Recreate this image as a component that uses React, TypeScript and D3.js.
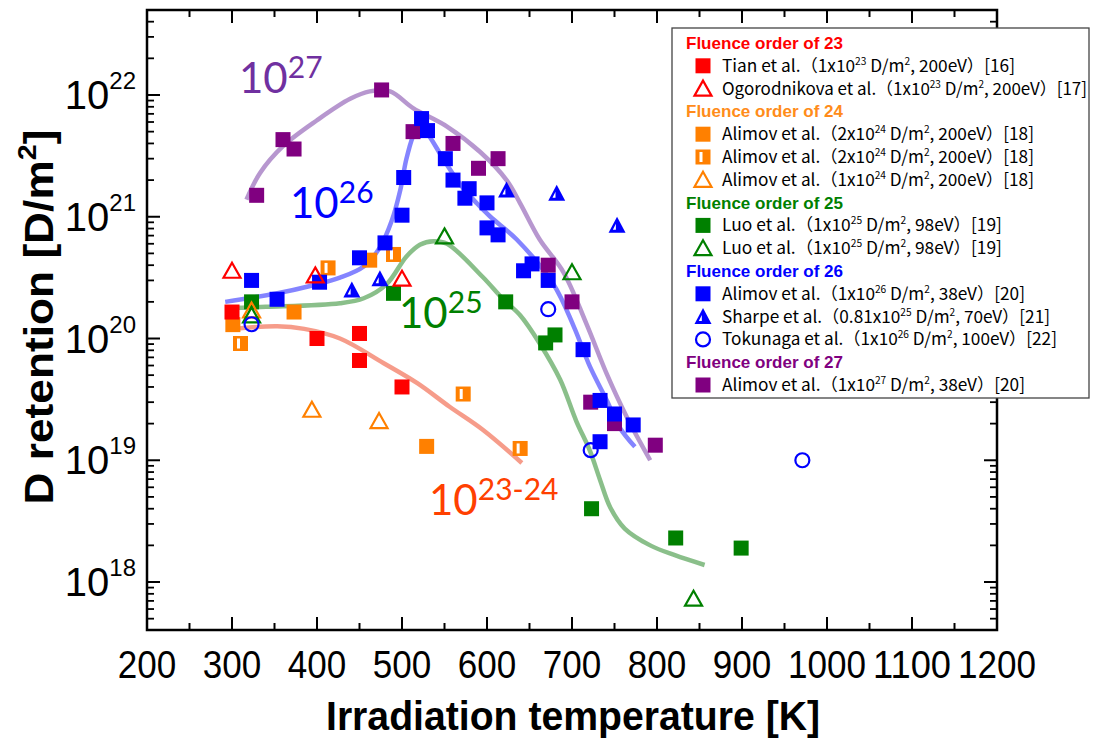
import * as d3 from 'd3'

// ---- data (temperature K, D retention D/m^2) ----
const tianSq = [[300, 1.65e20], [400, 1.0e20], [450, 1.1e20], [450, 6.6e19], [500, 4.0e19]]
const ogoTri = [[300, 3.6e20], [398, 3.3e20], [500, 3.1e20]]
const alimov24Sq = [[301, 1.3e20], [373, 1.65e20], [462, 4.4e20], [529, 1.3e19]]
const alimov24Half = [[310, 9.1e19], [413, 3.8e20], [490, 4.9e20], [572, 3.5e19], [639, 1.25e19]]
const alimov24Tri = [[323, 1.7e20], [394, 2.6e19], [473, 2.1e19]]
const luoSq = [[323, 2.0e20], [490, 2.35e20], [622, 2.0e20], [669, 9.2e19], [680, 1.07e20], [723, 4.0e18], [822, 2.3e18], [899, 1.9e18]]
const luoTri = [[323, 1.55e20], [550, 6.9e20], [700, 3.5e20], [843, 7.3e17]]
const alimov26Sq = [
  [323, 3.0e20], [353, 2.1e20], [403, 2.9e20], [450, 4.6e20], [480, 6.1e20], [500, 1.03e21],
  [502, 2.1e21], [523, 6.4e21], [530, 5.1e21], [551, 3.0e21], [560, 2.0e21], [579, 1.7e21],
  [574, 1.42e21], [600, 1.3e21], [600, 8.1e20], [613, 7.1e20], [643, 3.6e20], [653, 4.1e20],
  [672, 3.0e20], [713, 8.1e19], [733, 3.1e19], [750, 2.4e19], [772, 1.95e19], [733, 1.42e19],
]
const sharpeTri = [[441, 2.5e20], [474, 3.1e20], [623, 1.66e21], [682, 1.56e21], [753, 8.5e20]]
const tokunagaCirc = [[323, 1.31e20], [672, 1.74e20], [722, 1.21e19], [971, 1.0e19]]
const alimov27Sq = [
  [329, 1.5e21], [360, 4.3e21], [373, 3.6e21], [476, 1.1e22], [513, 5.0e21], [560, 4.0e21],
  [590, 2.5e21], [613, 3.0e21], [672, 4.0e20], [700, 2.0e20], [722, 3.0e19], [750, 2.0e19], [798, 1.33e19],
]

// guide curves drawn by hand in the original
const curve27 = [[317, 1.38e21], [333, 2.29e21], [360, 3.8e21], [400, 6.2e21], [439, 9.3e21], [462, 1.07e22], [486, 1.07e22], [513, 7.8e21], [553, 5.5e21], [592, 3.4e21], [623, 2.0e21], [639, 1.29e21], [662, 6.5e20], [690, 3.5e20], [717, 1.32e20], [741, 5.1e19], [764, 2.3e19], [792, 1.0e19]]
const curve26 = [[292, 2.0e20], [352, 2.34e20], [392, 2.7e20], [427, 3.16e20], [455, 3.9e20], [474, 5.6e20], [488, 9.3e20], [498, 1.66e21], [505, 2.95e21], [513, 4.6e21], [519, 5.5e21], [527, 5.1e21], [549, 2.95e21], [568, 1.86e21], [588, 1.29e21], [604, 1.0e21], [635, 6.5e20], [678, 2.8e20], [702, 1.26e20], [721, 5.9e19], [741, 3.1e19], [756, 1.86e19], [774, 1.29e19]]
const curve25 = [[294, 1.78e20], [340, 1.82e20], [427, 1.95e20], [455, 2.14e20], [482, 2.8e20], [505, 4.7e20], [521, 5.9e20], [537, 6.3e20], [553, 6.0e20], [595, 3.2e20], [619, 2.1e20], [639, 1.55e20], [662, 9.1e19], [686, 4.6e19], [705, 2.1e19], [721, 1.2e19], [733, 6.9e18], [745, 4.1e18], [762, 2.75e18], [792, 2.0e18], [821, 1.66e18], [856, 1.38e18]]
const curve2324 = [[303, 1.2e20], [353, 1.26e20], [385, 1.2e20], [427, 1.0e20], [478, 6.3e19], [518, 4.3e19], [556, 2.75e19], [595, 1.78e19], [641, 9.5e18]]

const xMajor = [200, 300, 400, 500, 600, 700, 800, 900, 1000, 1100, 1200]
const xMinor = [250, 350, 450, 550, 650, 750, 850, 950, 1050, 1150]
const yDecades = [18, 19, 20, 21, 22]

const C = {
  red: '#ff0000',
  orange: '#ff8000',
  green: '#008000',
  blue: '#0000ff',
  purple: '#800080',
}

// legend rows: header or item
const legendRows = [
  { kind: 'h', text: 'Fluence order of 23', color: '#ff0000' },
  { kind: 'i', marker: 'sq', color: C.red, parts: ['Tian et al.（1x10', '23', ' D/m', '2', ', 200eV）[16]'], w: 293 },
  { kind: 'i', marker: 'tri', color: C.red, parts: ['Ogorodnikova et al.（1x10', '23', ' D/m', '2', ', 200eV）[17]'], w: 365 },
  { kind: 'h', text: 'Fluence order of 24', color: '#ff8c1a' },
  { kind: 'i', marker: 'sq', color: C.orange, parts: ['Alimov et al.（2x10', '24', ' D/m', '2', ', 200eV）[18]'], w: 312 },
  { kind: 'i', marker: 'half', color: C.orange, parts: ['Alimov et al.（2x10', '24', ' D/m', '2', ', 200eV）[18]'], w: 312 },
  { kind: 'i', marker: 'tri', color: C.orange, parts: ['Alimov et al.（1x10', '24', ' D/m', '2', ', 200eV）[18]'], w: 312 },
  { kind: 'h', text: 'Fluence order of 25', color: '#008000' },
  { kind: 'i', marker: 'sq', color: C.green, parts: ['Luo et al.（1x10', '25', ' D/m', '2', ', 98eV）[19]'], w: 280 },
  { kind: 'i', marker: 'tri', color: C.green, parts: ['Luo et al.（1x10', '25', ' D/m', '2', ', 98eV）[19]'], w: 280 },
  { kind: 'h', text: 'Fluence order of 26', color: '#0000ff' },
  { kind: 'i', marker: 'sq', color: C.blue, parts: ['Alimov et al.（1x10', '26', ' D/m', '2', ', 38eV）[20]'], w: 303 },
  { kind: 'i', marker: 'stri', color: C.blue, parts: ['Sharpe et al.（0.81x10', '25', ' D/m', '2', ', 70eV）[21]'], w: 328 },
  { kind: 'i', marker: 'circ', color: C.blue, parts: ['Tokunaga et al.（1x10', '26', ' D/m', '2', ', 100eV）[22]'], w: 335 },
  { kind: 'h', text: 'Fluence order of 27', color: '#800080' },
  { kind: 'i', marker: 'sq', color: C.purple, parts: ['Alimov et al.（1x10', '27', ' D/m', '2', ', 38eV）[20]'], w: 303 },
]

const x = d3.scaleLinear().domain([200, 1200]).range([147, 997])
const y = d3.scaleLog().domain([10 ** 17.606, 10 ** 22.698]).range([630, 10])

function Marker({ type, color, cx, cy }) {
  const s = 15
  if (type === 'sq') {
    return <rect x={cx - s / 2} y={cy - s / 2} width={s} height={s} fill={color} />
  }
  if (type === 'half') {
    return (
      <g>
        <rect x={cx - s / 2} y={cy - s / 2} width={s} height={s} fill={color} />
        <rect x={cx - 3.5} y={cy - 5} width={3} height={10} fill="#fff" />
      </g>
    )
  }
  if (type === 'tri') {
    const h = 14
    const w = 17
    return (
      <path
        d={`M${cx},${cy - h / 2 - 1}L${cx + w / 2},${cy + h / 2}L${cx - w / 2},${cy + h / 2}Z`}
        fill="none" stroke={color} strokeWidth={2.2} strokeLinejoin="miter"
      />
    )
  }
  if (type === 'stri') {
    const h = 15
    const w = 17
    return (
      <g>
        <path d={`M${cx},${cy - h / 2 - 1}L${cx + w / 2},${cy + h / 2}L${cx - w / 2},${cy + h / 2}Z`} fill={color} />
        <path d={`M${cx - 1.2},${cy - 1.5}L${cx - 1.2},${cy + 4.5}L${cx - 4.2},${cy + 4.5}Z`} fill="#fff" />
      </g>
    )
  }
  return <circle cx={cx} cy={cy} r={7} fill="none" stroke={color} strokeWidth={2.2} />
}

function Points({ data, type, color }) {
  return (
    <g>
      {data.map((d, i) => (
        <Marker key={i} type={type} color={color} cx={x(d[0])} cy={y(d[1])} />
      ))}
    </g>
  )
}

const line = d3.line().x(d => x(d[0])).y(d => y(d[1])).curve(d3.curveCatmullRom.alpha(0.5))

function FluenceLabel({ px, py, exp, color }) {
  return (
    <text x={px} y={py} fill={color} fontFamily="Lato, 'Open Sans', sans-serif" fontSize={42}>
      10<tspan fontSize={30} dy={-15}>{exp}</tspan>
    </text>
  )
}

export default function App() {
  const yMinor = []
  for (let k = 17; k <= 22; k++) {
    for (let m = 2; m <= 9; m++) {
      const v = m * 10 ** k
      if (v > y.domain()[0] && v < y.domain()[1]) yMinor.push(v)
    }
  }
  const L = 147, R = 997, T = 10, B = 630
  const legendY0 = 43
  const legendStep = 22.8

  return (
    <svg width={1094} height={738} style={{ position: 'absolute', left: 0, top: 0, background: '#fff' }}>
      <rect width={1094} height={738} fill="#fff" />

      {/* guide curves */}
      <path d={line(curve2324)} fill="none" stroke="#f05a3c" strokeOpacity={0.6} strokeWidth={4.5} />
      <path d={line(curve25)} fill="none" stroke="#2a8a2a" strokeOpacity={0.55} strokeWidth={4.5} />
      <path d={line(curve27)} fill="none" stroke="#7030a0" strokeOpacity={0.5} strokeWidth={4.5} />
      <path d={line(curve26)} fill="none" stroke="#1f1fff" strokeOpacity={0.55} strokeWidth={4.5} />

      {/* data */}
      <Points data={alimov24Sq} type="sq" color={C.orange} />
      <Points data={alimov24Half} type="half" color={C.orange} />
      <Points data={tianSq} type="sq" color={C.red} />
      <Points data={luoSq} type="sq" color={C.green} />
      <Points data={alimov27Sq} type="sq" color={C.purple} />
      <Points data={alimov26Sq} type="sq" color={C.blue} />
      <Points data={alimov24Tri} type="tri" color={C.orange} />
      <Points data={ogoTri} type="tri" color={C.red} />
      <Points data={luoTri} type="tri" color={C.green} />
      <Points data={sharpeTri} type="stri" color={C.blue} />
      <Points data={tokunagaCirc} type="circ" color={C.blue} />

      {/* fluence labels */}
      <FluenceLabel px={239} py={93} exp="27" color="#7030a0" />
      <FluenceLabel px={290} py={218} exp="26" color="#0000ff" />
      <FluenceLabel px={399} py={328} exp="25" color="#008000" />
      <FluenceLabel px={429} py={515} exp="23-24" color="#ff4000" />

      {/* frame */}
      <rect x={L} y={T} width={R - L} height={B - T} fill="none" stroke="#000" strokeWidth={2.5} />

      {/* x ticks */}
      {xMajor.map(v => (
        <g key={'xM' + v} stroke="#000" strokeWidth={2}>
          <line x1={x(v)} x2={x(v)} y1={B} y2={B - 13} />
          <line x1={x(v)} x2={x(v)} y1={T} y2={T + 13} />
        </g>
      ))}
      {xMinor.map(v => (
        <g key={'xm' + v} stroke="#000" strokeWidth={2}>
          <line x1={x(v)} x2={x(v)} y1={B} y2={B - 7} />
          <line x1={x(v)} x2={x(v)} y1={T} y2={T + 7} />
        </g>
      ))}
      {xMajor.map(v => (
        <text key={'xl' + v} x={x(v)} y={678} textAnchor="middle"
          textLength={String(v).length * 19.5} lengthAdjust="spacingAndGlyphs"
          fontFamily="'Liberation Sans', Arial, sans-serif" fontSize={39}>
          {v}
        </text>
      ))}

      {/* y ticks */}
      {yDecades.map(k => (
        <g key={'yM' + k} stroke="#000" strokeWidth={2}>
          <line x1={L} x2={L + 13} y1={y(10 ** k)} y2={y(10 ** k)} />
          <line x1={R} x2={R - 13} y1={y(10 ** k)} y2={y(10 ** k)} />
        </g>
      ))}
      {yMinor.map((v, i) => (
        <g key={'ym' + i} stroke="#000" strokeWidth={1.8}>
          <line x1={L} x2={L + 7} y1={y(v)} y2={y(v)} />
          <line x1={R} x2={R - 7} y1={y(v)} y2={y(v)} />
        </g>
      ))}
      {yDecades.map(k => (
        <text key={'yl' + k} x={136} y={y(10 ** k) + 14} textAnchor="end"
          fontFamily="'Liberation Sans', Arial, sans-serif" fontSize={40}>
          10<tspan fontSize={24} dy={-20}>{k}</tspan>
        </text>
      ))}

      {/* axis titles */}
      <text x={573} y={730} textAnchor="middle" fontWeight="bold" textLength={494} lengthAdjust="spacingAndGlyphs"
        fontFamily="'Liberation Sans', Arial, sans-serif" fontSize={40}>
        Irradiation temperature [K]
      </text>
      <text transform="translate(53,317) rotate(-90)" textAnchor="middle" fontWeight="bold"
        textLength={375} lengthAdjust="spacingAndGlyphs"
        fontFamily="'Liberation Sans', Arial, sans-serif" fontSize={40}>
        D retention [D/m<tspan fontSize={26} dy={-17}>2</tspan><tspan dy={17}>]</tspan>
      </text>

      {/* legend */}
      <rect x={672} y={28} width={417} height={370} fill="#fff" stroke="#444" strokeWidth={1.3} />
      {legendRows.map((r, i) => {
        const cy = legendY0 + i * legendStep
        if (r.kind === 'h') {
          return (
            <text key={i} x={686} y={cy + 6} fill={r.color} fontWeight="bold" textLength={157} lengthAdjust="spacingAndGlyphs"
              fontFamily="'Liberation Sans', Arial, sans-serif" fontSize={16.5}>
              {r.text}
            </text>
          )
        }
        return (
          <g key={i}>
            <Marker type={r.marker} color={r.color} cx={703} cy={cy} />
            <text x={722} y={cy + 6} fill="#000" textLength={r.w} lengthAdjust="spacingAndGlyphs"
              fontFamily="'Noto Sans CJK JP', 'Noto Sans', sans-serif" fontSize={17}>
              <tspan>{r.parts[0]}</tspan>
              <tspan fontSize={10} dy={-7}>{r.parts[1]}</tspan>
              <tspan dy={7}>{r.parts[2]}</tspan>
              <tspan fontSize={10} dy={-7}>{r.parts[3]}</tspan>
              <tspan dy={7}>{r.parts[4]}</tspan>
            </text>
          </g>
        )
      })}
    </svg>
  )
}
